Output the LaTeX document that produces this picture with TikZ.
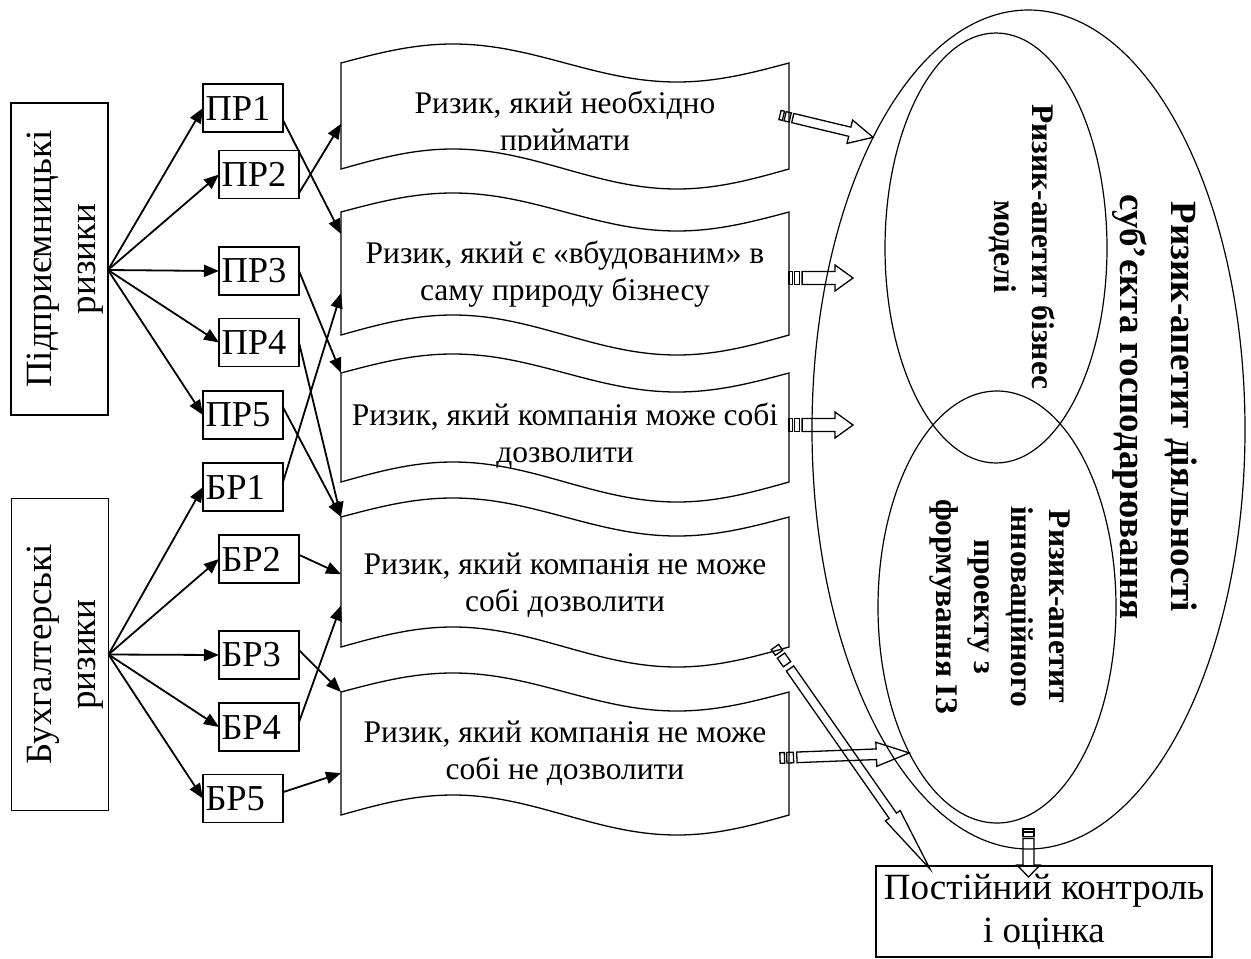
\documentclass[tikz,border=0pt]{standalone}
\usepackage{fontspec}
\setmainfont{Liberation Serif}
\usetikzlibrary{arrows.meta,calc,shapes.geometric}

\tikzset{
  riskbox/.style={draw, line width=1.6pt, text width=75pt, inner xsep=2.5pt, inner ysep=0pt,
    minimum height=48pt, align=left, outer sep=0pt, font=\fontsize{36.5}{40}\selectfont},
  sidebox/.style={draw, line width=1.6pt, minimum width=97pt, minimum height=312pt, outer sep=0pt},
  sidetext/.style={rotate=90, align=center, inner sep=0pt, font=\fontsize{37}{44}\selectfont},
  wave/.style={minimum width=448pt, minimum height=#1, inner sep=0pt, outer sep=0pt,
    append after command={\pgfextra{\draw[line width=1.3pt] (\tikzlastnode.north west)
      sin ++(112,-19) cos ++(112,19) sin ++(112,19) cos ++(112,-19) -- (\tikzlastnode.south east)
      sin ++(-112,20) cos ++(-112,-20) sin ++(-112,-20) cos ++(-112,20) -- cycle;}}},
  wavetext/.style={align=center, inner sep=0pt, font=\fontsize{31.5}{37}\selectfont},
  oval/.style={draw, ellipse, line width=1.2pt, inner sep=0pt, outer sep=0pt},
  ovaltext/.style={rotate=-90, align=center, inner sep=0pt, font=\bfseries\fontsize{31.5}{37.5}\selectfont},
  cbox/.style={draw, line width=1.6pt, minimum width=336pt, minimum height=91pt, align=center,
    outer sep=0pt, font=\fontsize{37}{43}\selectfont},
  link/.style={line width=1.8pt, -{Triangle[length=15pt,width=12pt]}},
  hollow/.style={draw, line width=1.3pt, line join=miter}
}

% striped hollow arrow: from, to, body half width, head half width, head length, stripe unit
\newcommand\striparrow[6]{%
  \path let \p1=($(#2)-(#1)$) in
    \pgfextra{\pgfmathsetmacro\sang{atan2(\y1,\x1)}\pgfmathsetmacro\slen{veclen(\x1,\y1)}%
      \xdef\sarrang{\sang}\xdef\sarrlen{\slen}};
  \begin{scope}[shift={(#1)},rotate=\sarrang,x=1pt,y=1pt]
    \draw[hollow] (0,-#3) rectangle (#6,#3);
    \draw[hollow] (1.5*#6,-#3) rectangle (3*#6,#3);
    \draw[hollow] (3.75*#6,-#3) -- (\sarrlen-#5,-#3) -- (\sarrlen-#5,-#4) -- (\sarrlen,0)
      -- (\sarrlen-#5,#4) -- (\sarrlen-#5,#3) -- (3.75*#6,#3) -- cycle;
  \end{scope}}

\begin{document}
\begin{tikzpicture}[x=1pt,y=-1pt]
\useasboundingbox (0,0) rectangle (1251,959);

% risk groups
\node[sidebox] (pr) at (59.5,259) {};
\node[sidetext] (prt) at (65,259) {Підприємницькі\\ризики};
\node[sidebox] (br) at (60,654.5) {};
\node[sidetext] (brt) at (65,654.5) {Бухгалтерські\\ризики};
\coordinate (prout) at ([yshift=-11pt]pr.east);

\node[riskbox] (pr1) at (243,108) {ПР1};
\node[riskbox] (pr2) at (259,174.5) {ПР2};
\node[riskbox] (pr3) at (259,271) {ПР3};
\node[riskbox] (pr4) at (259,342.5) {ПР4};
\node[riskbox] (pr5) at (243,415) {ПР5};
\node[riskbox] (br1) at (243,487) {БР1};
\node[riskbox] (br2) at (259,559) {БР2};
\node[riskbox] (br3) at (259,655) {БР3};
\node[riskbox] (br4) at (259,727) {БР4};
\node[riskbox] (br5) at (243,798.5) {БР5};

\foreach \i in {1,...,5} {
  \draw[link] (prout) -- (pr\i.west);
  \draw[link] (br.east) -- (br\i.west);
}

% kinds of risk
\node[wave=106pt] (w1) at (565,116) {};
\begin{scope}
  \clip (341,40) rectangle (789,150);
  \node[wavetext] (w1t) at (565,124) {Ризик, який необхідно\\приймати};
\end{scope}
\node[wave=123pt] (w2) at (565,273.5) {};
\node[wavetext] (w2t) at (565,274) {Ризик, який є «вбудованим» в\\саму природу бізнесу};
\node[wave=109pt] (w3) at (565,427.5) {};
\node[wavetext] (w3t) at (565,436) {Ризик, який компанія може собі\\дозволити};
\node[wave=130pt] (w4) at (565,582) {};
\node[wavetext] (w4t) at (565,585) {Ризик, який компанія не може\\собі дозволити};
\node[wave=123pt] (w5) at (565,753.5) {};
\node[wavetext] (w5t) at (565,753) {Ризик, який компанія не може\\собі не дозволити};

\draw[link] (pr1.-17) -- (w2.170);
\draw[link] (pr2.-25) -- (w1.182);
\draw[link] (pr3.east) -- (w3.north west);
\draw[link] (pr4.east) -- (w4.north west);
\draw[link] (pr5.11) -- (w4.north west);
\draw[link] (br1.7) -- (w2.185);
\draw[link] (br2.6) -- (w4.178);
\draw[link] (br3.7) -- (w5.north west);
\draw[link] (br4.7) -- (w4.186);
\draw[link] (br5.9) -- (w5.185);

% risk appetite
\node[oval, minimum width=433pt, minimum height=839pt] (oe) at (1028.5,429.5) {};
\node[oval, minimum width=222pt, minimum height=430pt] (be) at (996,248) {};
\node[oval, minimum width=238pt, minimum height=432pt] (ie) at (997,607) {};
\node[ovaltext, font=\bfseries\fontsize{37}{51}\selectfont] (oet) at (1155,407)
  {Ризик-апетит діяльності\\суб’єкта господарювання};
\node[ovaltext] (bet) at (1022,247) {Ризик-апетит бізнес\\моделі};
\node[ovaltext] (iet) at (1000,606.5) {Ризик-апетит\\інноваційного\\проекту з\\формування ІЗ};

\node[cbox] (cb) at (1044,911.5) {Постійний контроль\\і оцінка};

% hollow arrows
\coordinate (a1s) at ([xshift=-9pt,yshift=1pt]w1.east);
\coordinate (a2s) at ([yshift=-4.5pt]w2.east);
\coordinate (a2e) at ([xshift=64pt]a2s);
\coordinate (a3s) at ([yshift=2.5pt]w3.east);
\coordinate (a3e) at ([xshift=64pt]a3s);
\coordinate (a4s) at ([xshift=-9pt,yshift=-4.5pt]w5.east);
\coordinate (a5s) at ([xshift=-14pt]w4.south east);
\coordinate (a5e) at ([xshift=54pt,yshift=-3pt]cb.north west);
\coordinate (a6s) at ([yshift=20pt]oe.south);
\coordinate (a6e) at ([xshift=-15.5pt,yshift=-11pt]cb.north);

\striparrow{a1s}{oe.118}{4.7}{12}{24}{3.5}
\striparrow{a2s}{a2e}{6.5}{13}{18}{3.5}
\striparrow{a3s}{a3e}{6.5}{13}{18}{3.5}
\striparrow{a4s}{ie.239}{5.3}{12}{33}{4.5}
\striparrow{a5s}{a5e}{4.5}{9}{65}{7}
\striparrow{a6s}{a6e}{5.5}{11.5}{12}{2.5}
\end{tikzpicture}
\end{document}
